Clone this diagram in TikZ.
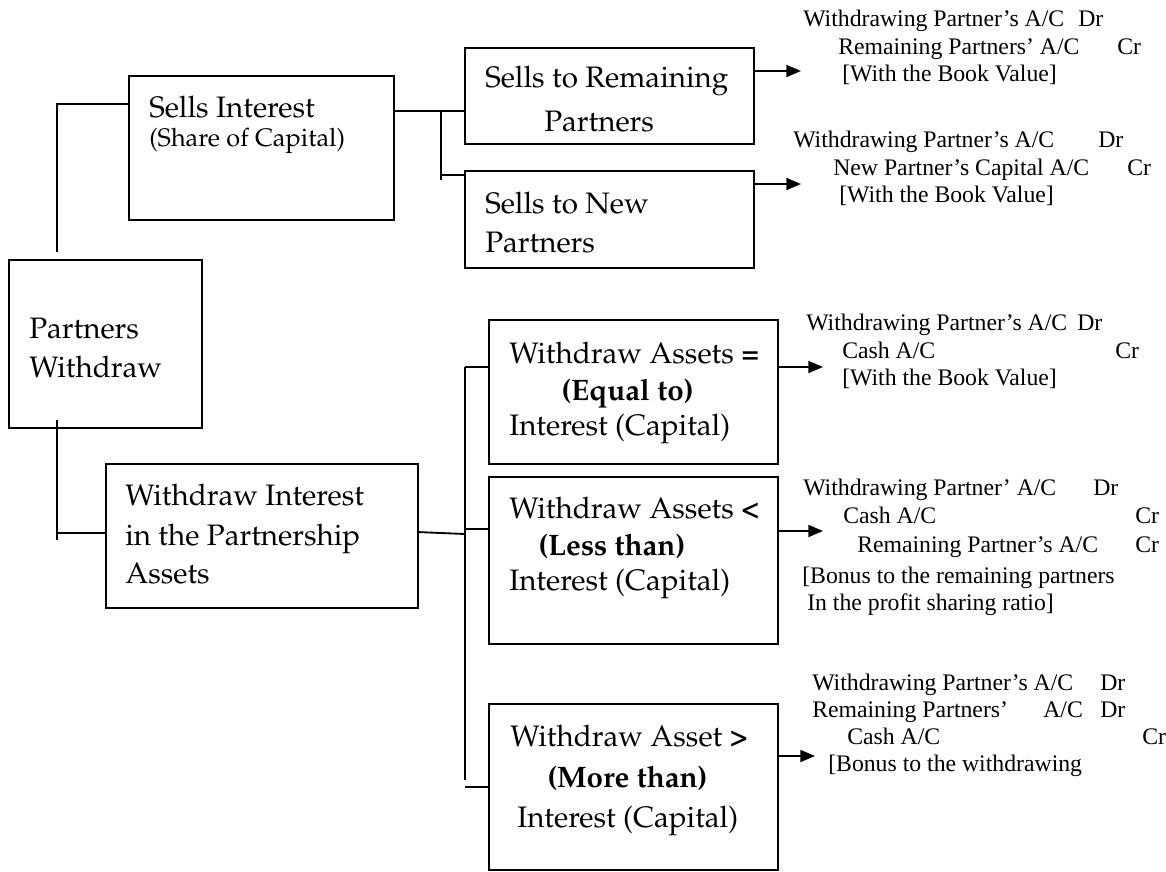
\documentclass[tikz,border=0pt]{standalone}
\usepackage[T1]{fontenc}
\usepackage{fontspec}
\newfontfamily\rtfont{Liberation Serif}
\newcommand\palfont{\fontencoding{T1}\fontfamily{ppl}\selectfont}
\usetikzlibrary{arrows.meta}
\tikzset{
  boxnode/.style={draw, line width=1.4pt, inner sep=0pt, anchor=north west},
  bt/.style={anchor=base west, inner sep=0pt, font=\palfont\fontsize{22.2}{26}\selectfont},
  btsmall/.style={anchor=base west, inner sep=0pt, font=\palfont\fontsize{19}{22}\selectfont},
  rt/.style={anchor=base west, inner sep=0pt, font=\rtfont\fontsize{17.8}{21}\selectfont},
  ln/.style={line width=1.4pt},
  arr/.style={line width=1.4pt, -{Triangle[length=11pt,width=9pt]}}
}
\newcommand\bx[5]{\node[boxnode, minimum width=#4*0.75pt, minimum height=#5*0.75pt] (#1) at (#2,#3) {};}
\begin{document}
\begin{tikzpicture}[x=0.75pt,y=-0.75pt]
\useasboundingbox (0,0) rectangle (1166,871);
% boxes
\bx{si}{128}{75}{265}{144}
\bx{sr}{464}{47}{289}{96}
\bx{sn}{464}{170}{289}{97}
\bx{pw}{8}{259}{193}{168}
\bx{wi}{105}{463}{312}{144}
\bx{eq}{488}{319}{289}{144}
\bx{ls}{488}{476}{289}{167}
\bx{mr}{488}{703}{289}{166}
% box texts
\node[bt] (si1) at (149,117) {Sells Interest};
\node[btsmall] (si2) at (149,146) {(Share of Capital)};
\node[bt] (sr1) at (485,87) {Sells to Remaining};
\node[bt] (sr2) at (544,131) {Partners};
\node[bt] (sn1) at (485,213) {Sells to New};
\node[bt] (sn2) at (485,252) {Partners};
\node[bt] (pw1) at (29,338) {Partners};
\node[bt] (pw2) at (29,377) {Withdraw};
\node[bt] (wi1) at (125,505) {Withdraw Interest};
\node[bt] (wi2) at (125,545) {in the Partnership};
\node[bt] (wi3) at (125,583) {Assets};
\node[bt] (eq1) at (509,363) {Withdraw Assets \textbf{=}};
\node[bt] (eq2) at (561,400) {\textbf{(Equal to)}};
\node[bt] (eq3) at (509,435) {Interest (Capital)};
\node[bt] (ls1) at (509,518) {Withdraw Assets \textbf{<}};
\node[bt] (ls2) at (538,555) {\textbf{(Less than)}};
\node[bt] (ls3) at (509,590) {Interest (Capital)};
\node[bt] (mr1) at (510,746) {Withdraw Asset \textbf{>}};
\node[bt] (mr2) at (547,787) {\textbf{(More than)}};
\node[bt] (mr3) at (517,827) {Interest (Capital)};
% right texts
\node[rt] (a1) at (803,26) {Withdrawing Partner’s A/C};
\node[rt] (a1d) at (1078,26) {Dr};
\node[rt] (a2) at (838,54) {Remaining Partners’ A/C};
\node[rt] (a2c) at (1117,54) {Cr};
\node[rt] (a3) at (842,81) {[With the Book Value]};
\node[rt] (b1) at (793,147) {Withdrawing Partner’s A/C};
\node[rt] (b1d) at (1098,147) {Dr};
\node[rt] (b2) at (833,175) {New Partner’s Capital A/C};
\node[rt] (b2c) at (1127,175) {Cr};
\node[rt] (b3) at (839,202) {[With the Book Value]};
\node[rt] (c1) at (806,330) {Withdrawing Partner’s A/C};
\node[rt] (c1d) at (1077,330) {Dr};
\node[rt] (c2) at (842,358) {Cash A/C};
\node[rt] (c2c) at (1115,358) {Cr};
\node[rt] (c3) at (842,385) {[With the Book Value]};
\node[rt] (d1) at (803,495) {Withdrawing Partner’ A/C};
\node[rt] (d1d) at (1093,495) {Dr};
\node[rt] (d2) at (843,523) {Cash A/C};
\node[rt] (d2c) at (1135,523) {Cr};
\node[rt] (d3) at (857,552) {Remaining Partner’s A/C};
\node[rt] (d3c) at (1135,552) {Cr};
\node[rt] (d4) at (802,583) {[Bonus to the remaining partners};
\node[rt] (d5) at (807,610) {In the profit sharing ratio]};
\node[rt] (e1) at (812,690) {Withdrawing Partner’s A/C};
\node[rt] (e1d) at (1100,690) {Dr};
\node[rt] (e2) at (812,717) {Remaining Partners’};
\node[rt] (e2a) at (1043,717) {A/C};
\node[rt] (e2d) at (1100,717) {Dr};
\node[rt] (e3) at (847,744) {Cash A/C};
\node[rt] (e3c) at (1142,744) {Cr};
\node[rt] (e4) at (828,771) {[Bonus to the withdrawing};
% connector coordinates
\coordinate (pwT) at (57,252);
\coordinate (siL) at (128,104);
\coordinate (siR) at (393,111);
\coordinate (brA) at (441,111);
\coordinate (brAb) at (441,180);
\coordinate (srL) at (464,111);
\coordinate (snL) at (464,175);
\coordinate (brAc) at (441,175);
\coordinate (pwB) at (57,420);
\coordinate (pwBb) at (57,540);
\coordinate (wiL) at (105,533);
\coordinate (wiR) at (417,532);
\coordinate (brB) at (465,534);
\coordinate (brBt) at (465,367);
\coordinate (brBb) at (465,780);
\coordinate (eqL) at (488,367);
\coordinate (brBm) at (465,529);
\coordinate (lsL) at (488,529);
\coordinate (brBl) at (465,787);
\coordinate (mrL) at (488,787);
\coordinate (srR) at (753,71);
\coordinate (snR) at (753,184);
\coordinate (eqR) at (777,367);
\coordinate (lsR) at (777,531);
\coordinate (mrR) at (777,756);
\coordinate (tA) at (801,71);
\coordinate (tB) at (801,184);
\coordinate (tC) at (823,367);
\coordinate (tD) at (823,531);
\coordinate (tE) at (815,756);
% connectors
\draw[ln] (pwT) |- (siL);
\draw[ln] (siR) -- (srL);
\draw[ln] (brA) -- (brAb);
\draw[ln] (brAc) -- (snL);
\draw[ln] (pwB) -- (pwBb);
\draw[ln] (pwB |- wiL) -- (wiL);
\draw[ln] (wiR) -- (brB);
\draw[ln] (brBt) -- (brBb);
\draw[ln] (brBt) -- (eqL);
\draw[ln] (brBm) -- (lsL);
\draw[ln] (brBl) -- (mrL);
\draw[arr] (srR) -- (tA);
\draw[arr] (snR) -- (tB);
\draw[arr] (eqR) -- (tC);
\draw[arr] (lsR) -- (tD);
\draw[arr] (mrR) -- (tE);
\end{tikzpicture}
\end{document}
